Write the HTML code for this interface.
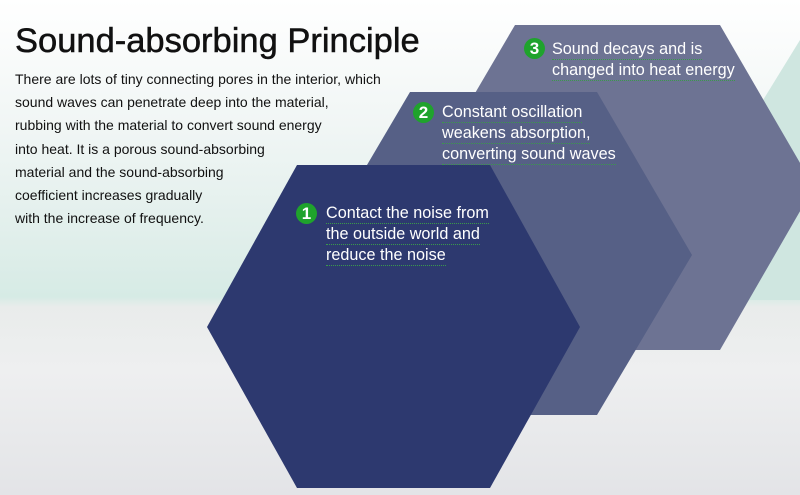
<!DOCTYPE html>
<html><head><meta charset="utf-8"><style>
body{margin:0;width:800px;height:495px;overflow:hidden;position:relative;font-family:"Liberation Sans",Arial,sans-serif;background:#fff}
.bg{position:absolute;inset:0;background:linear-gradient(180deg,#ffffff 0%,#f1f6f5 25%,#dfeeea 50%,#d6ebe5 60%,#e9eceb 62%,#eeeff0 75%,#e3e4e7 100%)}
svg{position:absolute;left:0;top:0}
h1{position:absolute;left:15px;top:22px;margin:0;font-size:34.5px;font-weight:normal;color:#111;-webkit-text-stroke:.5px #111}
.p{position:absolute;left:15px;top:68px;font-size:14px;line-height:23.2px;color:#111}
.lab{position:absolute;color:#fff;font-size:16.2px;line-height:20px}
.lab span{border-bottom:1px dotted #3a9a4a;display:inline-block;line-height:19px}
.b{position:absolute;width:21px;height:21px;border-radius:50%;background:#1fa32c;color:#fff;font-weight:bold;font-size:17px;text-align:center;line-height:21px}
</style></head><body>
<div class="bg"></div>
<svg width="800" height="495">
<polygon points="640,300 800,300 800,40" fill="#cfe6e0"/>
<polygon points="515,25 720,25 814,187 720,350 515,350 420,187" fill="#6d7393"/>
<polygon points="410,92 597,92 692,255 597,415 410,415 314,255" fill="#566086"/>
<polygon points="297,165 490,165 580,327 490,488 297,488 207,327" fill="#2d396f"/>
</svg>
<h1>Sound-absorbing Principle</h1>
<div class="p">There are lots of tiny connecting pores in the interior, which<br>sound waves can penetrate deep into the material,<br>rubbing with the material to convert sound energy<br>into heat. It is a porous sound-absorbing<br>material and the sound-absorbing<br>coefficient increases gradually<br>with the increase of frequency.</div>
<div class="b" style="left:524px;top:38px">3</div>
<div class="lab" style="left:552px;top:39px"><span>Sound decays and is</span><br><span>changed into heat energy</span></div>
<div class="b" style="left:413px;top:102px">2</div>
<div class="lab" style="left:442px;top:102px"><span>Constant oscillation</span><br><span>weakens absorption,</span><br><span>converting sound waves</span></div>
<div class="b" style="left:296px;top:203px">1</div>
<div class="lab" style="left:326px;top:203px"><span>Contact the noise from</span><br><span>the outside world and</span><br><span>reduce the noise</span></div>
</body></html>
